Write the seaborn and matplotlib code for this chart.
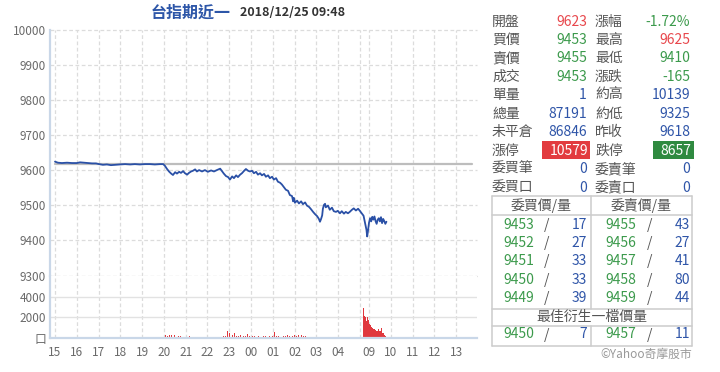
import matplotlib
matplotlib.use("Agg")
import matplotlib.pyplot as plt
from matplotlib.patches import Rectangle
from matplotlib.lines import Line2D
import seaborn as sns
import pandas as pd

sns.set_theme(style="white")
plt.rcParams['font.family'] = ['Noto Sans CJK TC', 'DejaVu Sans']

# ---------------- data ----------------
title_name = "台指期近一"
title_time = "2018/12/25 09:48"
prev_close = 9618

price_times = [
    "15:00", "15:08", "15:19", "15:33", "15:47", "16:00", "16:09", "16:20", "16:31", "16:42",
    "16:53", "17:01", "17:12", "17:23", "17:34", "17:45", "17:59", "18:13", "18:27", "18:40",
    "18:54", "19:08", "19:22", "19:35", "19:49", "19:58", "20:03", "20:08", "20:14", "20:20",
    "20:25", "20:31", "20:36", "20:42", "20:47", "20:53", "20:58", "21:04", "21:09", "21:15",
    "21:20", "21:26", "21:31", "21:37", "21:45", "21:53", "22:01", "22:10", "22:18", "22:26",
    "22:35", "22:40", "22:45", "22:51", "22:57", "23:02", "23:08", "23:13", "23:19", "23:24",
    "23:30", "23:35", "23:41", "23:46", "23:52", "23:57", "00:03", "00:08", "00:14", "00:19",
    "00:25", "00:30", "00:36", "00:41", "00:47", "00:52", "00:58", "01:03", "01:09", "01:14",
    "01:20", "01:25", "01:31", "01:36", "01:42", "01:47", "01:53", "01:56", "01:58", "02:01",
    "02:07", "02:12", "02:18", "02:23", "02:29", "02:34", "02:40", "02:45", "02:51", "02:56",
    "03:02", "03:07", "03:10", "03:13", "03:16", "03:18", "03:21", "03:24", "03:26", "03:32",
    "03:37", "03:43", "03:48", "03:54", "03:59", "04:05", "04:10", "04:16", "04:21", "04:27",
    "04:32", "04:38", "04:43", "04:49", "04:55", "04:59",
    "08:45", "08:50", "08:53", "08:55", "08:57", "09:00", "09:03", "09:06", "09:09", "09:12",
    "09:15", "09:18", "09:21", "09:24", "09:27", "09:30", "09:33", "09:36", "09:39", "09:42",
    "09:45", "09:48",
]
prices = [
    9624, 9621, 9620, 9621, 9620, 9620, 9622, 9621, 9620, 9619,
    9619, 9617, 9615, 9616, 9614, 9615, 9616, 9617, 9616, 9617,
    9616, 9617, 9617, 9616, 9617, 9617, 9612, 9604, 9596, 9590,
    9586, 9594, 9590, 9595, 9592, 9597, 9591, 9587, 9592, 9596,
    9598, 9602, 9596, 9600, 9596, 9600, 9595, 9599, 9596, 9600,
    9604, 9597, 9590, 9583, 9580, 9573, 9582, 9577, 9585, 9580,
    9587, 9591, 9598, 9603, 9598, 9596, 9598, 9591, 9595, 9587,
    9591, 9585, 9589, 9581, 9585, 9577, 9581, 9573, 9577, 9567,
    9564, 9559, 9551, 9544, 9541, 9529, 9526, 9511, 9521, 9507,
    9513, 9505, 9511, 9503, 9508, 9499, 9495, 9489, 9481, 9475,
    9469, 9461, 9453, 9461, 9471, 9490, 9501, 9504, 9494, 9499,
    9487, 9493, 9483, 9481, 9484, 9477, 9483, 9476, 9481, 9477,
    9481, 9487, 9491, 9485, 9490, 9485,
    9470, 9445, 9430, 9411, 9425, 9450, 9463, 9454, 9467, 9459,
    9468, 9455, 9447, 9459, 9463, 9454, 9466, 9449, 9461, 9455,
    9447, 9453,
]

vol_times = [
    "15:00", "17:20", "17:50",
    "20:00", "20:05", "20:10", "20:15", "20:20", "20:25", "20:30", "20:35", "20:40", "20:45",
    "20:50", "20:55", "21:00", "21:05", "21:10", "21:15", "21:20", "21:25", "21:30", "21:35",
    "21:40", "21:45", "21:50", "21:55", "22:00", "22:05", "22:10", "22:15", "22:20", "22:25",
    "22:30", "22:35", "22:40", "22:45", "22:50", "22:55", "23:00", "23:05", "23:10", "23:15",
    "23:20", "23:25", "23:30", "23:35", "23:40", "23:45", "23:50", "23:55", "00:00", "00:05",
    "00:10", "00:15", "00:20", "00:25", "00:30", "00:35", "00:40", "00:45", "00:50", "00:55",
    "01:00", "01:05", "01:10", "01:15", "01:20", "01:25", "01:30", "01:35", "01:40", "01:45",
    "01:50", "01:55", "02:00", "02:05", "02:10", "02:15", "02:20", "02:25", "02:30",
    "02:45", "03:00", "03:15", "03:30", "04:40", "04:50",
    "08:45", "08:46", "08:47", "08:48", "08:49", "08:50", "08:51", "08:52", "08:53", "08:54",
    "08:55", "08:56", "08:57", "08:58", "08:59", "09:00", "09:01", "09:02", "09:03", "09:04",
    "09:05", "09:06", "09:07", "09:08", "09:09", "09:10", "09:11", "09:12", "09:13", "09:14",
    "09:15", "09:16", "09:17", "09:18", "09:19", "09:20", "09:21", "09:22", "09:23", "09:24",
    "09:25", "09:26", "09:27", "09:28", "09:29", "09:30", "09:31", "09:32", "09:33", "09:34",
    "09:35", "09:36", "09:37", "09:38", "09:39", "09:40", "09:41", "09:42", "09:43", "09:44",
    "09:45", "09:46", "09:47",
]
volumes = [
    100, 80, 60,
    120, 260, 180, 300, 220, 150, 260, 90, 140, 120,
    80, 100, 90, 60, 120, 150, 80, 110, 100, 70,
    60, 120, 90, 70, 80, 60, 90, 70, 100, 80,
    60, 90, 90, 150, 200, 620, 450, 560, 300, 420,
    200, 150, 250, 180, 200, 120, 350, 150, 300, 120,
    200, 90, 150, 110, 250, 120, 180, 90, 120, 80,
    150, 520, 200, 120, 250, 150, 200, 130, 280, 160,
    200, 140, 260, 180, 300, 200, 220, 150, 120,
    80, 90, 60, 100, 50, 70,
    2900, 2400, 2100, 1900, 2300, 2000, 1800, 1900, 1600, 1500,
    2000, 1700, 1400, 1600, 1700, 1500, 1300, 1200, 1100, 1250,
    1250, 1000, 900, 950, 800, 900, 1000, 850, 700, 750,
    850, 780, 750, 700, 700, 650, 600, 620, 650, 600,
    550, 600, 800, 650, 600, 650, 650, 700, 1200, 900,
    500, 450, 400, 420, 450, 380, 300, 280, 250, 220,
    200, 180, 150,
]

night_ticks = ["15", "16", "17", "18", "19", "20", "21", "22", "23", "00", "01", "02", "03", "04"]
day_ticks = ["09", "10", "11", "12", "13"]
price_yticks = [9300, 9400, 9500, 9600, 9700, 9800, 9900, 10000]
vol_yticks = [0, 2000, 4000]
vol_yticklabels = ["口", "2000", "4000"]

rows_left = [("開盤", "9623", "red"), ("買價", "9453", "green"), ("賣價", "9455", "green"),
             ("成交", "9453", "green"), ("單量", "1", "blue"), ("總量", "87191", "blue"),
             ("未平倉", "86846", "blue"), ("漲停", "10579", "redbox"), ("委買筆", "0", "blue"),
             ("委買口", "0", "blue")]
rows_right = [("漲幅", "-1.72%", "green"), ("最高", "9625", "red"), ("最低", "9410", "green"),
              ("漲跌", "-165", "green"), ("約高", "10139", "blue"), ("約低", "9325", "blue"),
              ("昨收", "9618", "blue"), ("跌停", "8657", "greenbox"), ("委賣筆", "0", "blue"),
              ("委賣口", "0", "blue")]
bid_prices = ["9453", "9452", "9451", "9450", "9449"]
bid_qty = ["17", "27", "33", "33", "39"]
ask_prices = ["9455", "9456", "9457", "9458", "9459"]
ask_qty = ["43", "27", "41", "80", "44"]
best_bid = ("9450", "7")
best_ask = ("9457", "11")

# ---------------- scale helpers ----------------
DAY0 = (369 - 55) / 21.78  # axis position of 09:00


def to_pos(s):
    h, m = map(int, s.split(":"))
    mins = h * 60 + m
    if h >= 15:
        return (mins - 900) / 60
    if h < 5:
        return (mins + 540) / 60
    return DAY0 + (mins - 540) / 60


W, H = 720, 372
fig = plt.figure(figsize=(7.2, 3.72), dpi=100)


def fx(x):
    return x / W


def fy(y):
    return 1 - y / H


RED = "#e8474c"
GREEN = "#3c9a4c"
BLUE = "#2f55a8"
LBL = "#555555"
TICK = "#6a6a6a"
SPINE = "#c9d7e8"
GRID = "#dcdcdc"

ax = fig.add_axes([fx(50), fy(275.5), (477 - 50) / W, (275.5 - 29.5) / H])
axv = fig.add_axes([fx(50), fy(337.7), (477 - 50) / W, (337.7 - 275.5) / H], sharex=ax)

xlim = (-5 / 21.78, 422 / 21.78)
xt = list(range(14)) + [DAY0 + i for i in range(5)]
xtl = night_ticks + day_ticks

df = pd.DataFrame({"t": [to_pos(s) for s in price_times], "p": prices})

for a in (ax, axv):
    for t in xt + [14.0]:
        a.axvline(t, color=GRID, lw=0.9, ls=(0, (3, 2)), zorder=0)
    for s in a.spines.values():
        s.set_visible(False)
    a.spines["left"].set_visible(True)
    a.spines["left"].set_color(SPINE)
    a.spines["left"].set_linewidth(1.6)
    a.set_facecolor("white")

for yv in price_yticks:
    ax.axhline(yv, color=GRID if yv != 9300 else "#c8c8c8", lw=0.9, ls=(0, (3, 2)), zorder=0,
               clip_on=False)
ax.plot([0, DAY0 + 4.75], [prev_close, prev_close], color="#bdbdbd", lw=1.6, zorder=1)
sns.lineplot(data=df, x="t", y="p", ax=ax, color="#2a50a6", lw=1.3, sort=False,
             estimator=None, zorder=3)
ax.set_ylim(9300, 10000)
ax.set_xlim(*xlim)
ax.set_yticks(price_yticks)
ax.set_yticklabels([str(v) for v in price_yticks])
ax.tick_params(axis="y", length=0, pad=3, labelsize=8.5, labelcolor=TICK)
ax.tick_params(axis="x", which="both", length=0, labelbottom=False)
ax.set_xlabel("")
ax.set_ylabel("")

for yv in (2000, 4000):
    axv.axhline(yv, color="#e2e2e2", lw=1.0, zorder=0)
axv.bar([to_pos(s) for s in vol_times], volumes, width=0.034, color="#e0383e",
        linewidth=0, zorder=2)
axv.set_ylim(0, 6068)
axv.set_yticks(vol_yticks)
axv.set_yticklabels(vol_yticklabels)
axv.spines["bottom"].set_visible(True)
axv.spines["bottom"].set_color(SPINE)
axv.spines["bottom"].set_linewidth(1.6)
axv.set_xticks(xt)
axv.set_xticklabels(xtl)
axv.tick_params(axis="x", length=4, width=1.2, color=SPINE, pad=2, labelsize=8.5, labelcolor=TICK)
axv.tick_params(axis="y", length=0, pad=3, labelsize=8.5, labelcolor=TICK)
axv.set_xlim(*xlim)

# title
fig.text(fx(151), fy(12.5), title_name, color="#2d56a8", fontsize=11.5, fontweight="bold",
         ha="left", va="center")
fig.text(fx(240), fy(12.5), title_time, color="#333333", fontsize=9, fontweight="bold",
         ha="left", va="center")


def T(x, y, s, color, ha="left", size=10, **kw):
    fig.text(fx(x), fy(y), s, color=color, ha=ha, va="center", fontsize=size, **kw)


cmap = {"red": RED, "green": GREEN, "blue": BLUE}
for i in range(10):
    y = 21.5 + i * 18.45
    l1, v1, c1 = rows_left[i]
    l2, v2, c2 = rows_right[i]
    T(492, y, l1, LBL)
    T(595, y, l2, LBL)
    if c1 == "redbox":
        fig.patches.append(Rectangle((fx(542), fy(159.5)), 48 / W, 18.8 / H, transform=fig.transFigure,
                                     facecolor="#e23b3f", edgecolor="none"))
        T(588, y, v1, "white", ha="right")
    else:
        T(587, y, v1, cmap[c1], ha="right")
    if c2 == "greenbox":
        fig.patches.append(Rectangle((fx(653), fy(159.5)), 40.5 / W, 18.8 / H, transform=fig.transFigure,
                                     facecolor="#2f8a40", edgecolor="none"))
        T(691, y, v2, "white", ha="right")
    else:
        T(690, y, v2, cmap[c2], ha="right")

# order table
LC = "#cccccc"


def L(x0, y0, x1, y1):
    fig.add_artist(Line2D([fx(x0), fx(x1)], [fy(y0), fy(y1)], color=LC, lw=1.1,
                          transform=fig.transFigure))


L(492.3, 196, 691.7, 196)
L(492.3, 345.7, 691.7, 345.7)
L(492.3, 196, 492.3, 345.7)
L(691.7, 196, 691.7, 345.7)
L(492.3, 215, 691.7, 215)
L(492.3, 309, 691.7, 309)
L(492.3, 325.7, 691.7, 325.7)
L(591, 196, 591, 309)
L(591, 325.7, 591, 345.7)

T(541.5, 206, "委買價/量", LBL, ha="center")
T(641.5, 206, "委賣價/量", LBL, ha="center")
for i in range(5):
    y = 225 + i * 18.2
    T(503, y, bid_prices[i], GREEN)
    T(544, y, "/", LBL)
    T(587, y, bid_qty[i], BLUE, ha="right")
    T(605.5, y, ask_prices[i], GREEN)
    T(646.5, y, "/", LBL)
    T(690, y, ask_qty[i], BLUE, ha="right")
T(592, 317, "最佳衍生一檔價量", LBL, ha="center")
T(503, 334.5, best_bid[0], GREEN)
T(544, 334.5, "/", LBL)
T(587, 334.5, best_bid[1], BLUE, ha="right")
T(605.5, 334.5, best_ask[0], GREEN)
T(646.5, 334.5, "/", LBL)
T(690, 334.5, best_ask[1], BLUE, ha="right")
T(692, 354, "©Yahoo奇摩股市", "#999999", ha="right", size=8.5)

fig.savefig("out.png", dpi=100)
